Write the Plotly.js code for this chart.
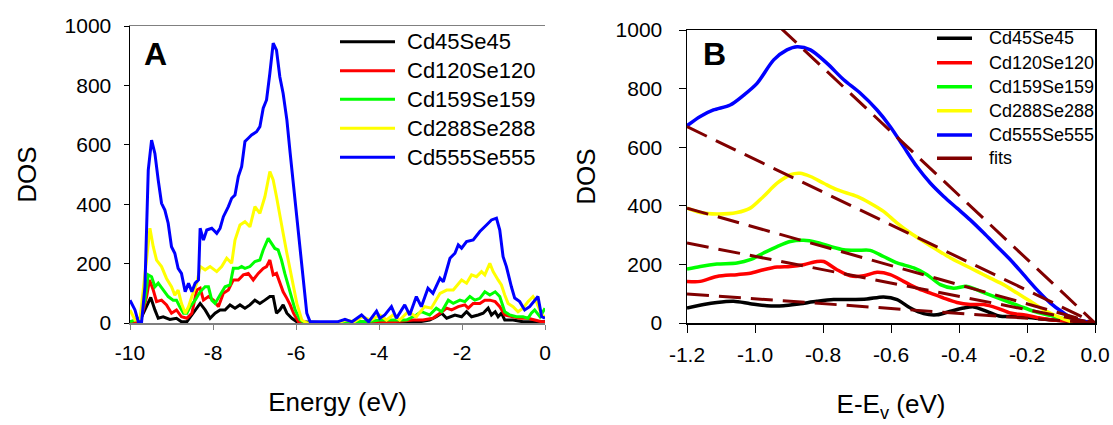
<!DOCTYPE html>
<html>
<head>
<meta charset="utf-8">
<script src="https://cdn.plot.ly/plotly-3.0.1.min.js"></script>
<style>html,body{margin:0;padding:0;background:#fff;}#chart{width:1113px;height:425px;}</style>
</head>
<body>
<div id="chart"></div>
<script>
// ---------- Panel A data (Energy eV, DOS) ----------
const seriesNames = ["Cd45Se45","Cd120Se120","Cd159Se159","Cd288Se288","Cd555Se555"];
const seriesColors = ["#000000","#ff0000","#00ff00","#ffff00","#0000ff"];

const a555x = [-10,-9.88,-9.80,-9.72,-9.64,-9.56,-9.48,-9.40,-9.32,-9.24,-9.16,-9.08,-9.00,-8.92,-8.84,-8.76,-8.67,-8.59,-8.51,-8.43,-8.35,-8.31,-8.23,-8.15,-8.03,-7.91,-7.83,-7.75,-7.63,-7.55,-7.47,-7.39,-7.31,-7.23,-7.15,-7.07,-6.95,-6.87,-6.79,-6.71,-6.63,-6.55,-6.47,-6.39,-6.31,-6.22,-6.14,-6.06,-5.98,-5.90,-5.82,-5.74,-5.66,-5.0,-4.82,-4.65,-4.42,-4.25,-4.06,-3.98,-3.86,-3.70,-3.58,-3.38,-3.26,-3.10,-2.98,-2.82,-2.70,-2.53,-2.45,-2.29,-2.17,-2.09,-2.01,-1.89,-1.73,-1.57,-1.41,-1.29,-1.17,-1.09,-1.01,-0.93,-0.81,-0.73,-0.61,-0.49,-0.37,-0.25,-0.17,-0.08,0];
const a555y = [77,44,4,4,122,515,616,571,481,403,380,336,257,235,184,167,105,134,105,134,145,319,279,313,319,302,319,358,392,420,431,493,526,611,622,633,644,661,723,751,841,942,919,829,773,684,571,459,369,257,122,33,4,4,12,4,27,4,40,16,27,55,16,61,27,89,55,117,100,151,139,218,235,263,252,274,280,308,330,347,353,313,223,190,122,84,72,44,55,77,89,21,16];

const a288x = [-10,-9.88,-9.76,-9.64,-9.52,-9.44,-9.36,-9.24,-9.12,-9.00,-8.92,-8.84,-8.76,-8.67,-8.59,-8.51,-8.39,-8.31,-8.19,-8.07,-7.91,-7.79,-7.67,-7.55,-7.47,-7.35,-7.23,-7.11,-6.99,-6.87,-6.75,-6.63,-6.55,-6.47,-6.39,-6.31,-6.22,-6.14,-6.06,-5.98,-5.86,-5.74,-5.0,-4.8,-4.6,-4.4,-4.2,-3.98,-3.82,-3.66,-3.50,-3.30,-3.10,-2.90,-2.74,-2.53,-2.37,-2.21,-2.01,-1.89,-1.77,-1.65,-1.53,-1.45,-1.33,-1.25,-1.13,-1.05,-0.97,-0.89,-0.77,-0.65,-0.53,-0.41,-0.29,-0.21,-0.08,0];
const a288y = [44,10,10,167,319,257,212,190,150,122,94,111,66,33,55,89,134,190,179,190,173,190,218,201,279,330,341,324,392,369,425,510,482,425,369,302,235,179,122,66,10,0,0,10,4,21,10,27,10,27,10,38,21,55,50,100,111,111,145,134,162,156,173,162,201,173,145,128,94,66,55,38,50,72,89,72,27,21];

const a159x = [-10,-9.88,-9.76,-9.64,-9.56,-9.48,-9.40,-9.32,-9.20,-9.08,-8.96,-8.88,-8.80,-8.71,-8.63,-8.55,-8.43,-8.31,-8.19,-8.11,-8.03,-7.95,-7.83,-7.71,-7.59,-7.51,-7.39,-7.31,-7.23,-7.11,-6.99,-6.87,-6.79,-6.67,-6.59,-6.51,-6.43,-6.35,-6.27,-6.18,-6.10,-6.02,-5.90,-5.78,-5.0,-4.6,-4.3,-3.98,-3.82,-3.58,-3.34,-3.10,-2.98,-2.78,-2.62,-2.49,-2.33,-2.21,-2.05,-1.93,-1.81,-1.69,-1.57,-1.45,-1.33,-1.20,-1.09,-0.97,-0.85,-0.69,-0.53,-0.41,-0.33,-0.25,-0.12,0];
const a159y = [4,10,16,77,162,156,122,134,111,89,77,77,55,33,33,55,77,105,122,122,77,66,94,122,128,184,184,190,184,190,207,212,246,285,268,251,246,212,167,122,89,44,10,0,0,6,4,10,10,10,10,27,38,27,50,38,77,66,77,72,89,77,83,105,94,105,89,38,27,21,21,16,33,44,21,50];

const a120x = [-10,-9.84,-9.72,-9.60,-9.53,-9.44,-9.36,-9.24,-9.12,-9.00,-8.88,-8.76,-8.63,-8.51,-8.39,-8.31,-8.23,-8.11,-7.99,-7.87,-7.75,-7.63,-7.51,-7.39,-7.27,-7.15,-7.03,-6.91,-6.79,-6.71,-6.63,-6.55,-6.47,-6.39,-6.31,-6.22,-6.14,-6.06,-5.94,-5.82,-5.0,-4.5,-4.0,-3.5,-3.18,-2.94,-2.70,-2.53,-2.37,-2.25,-2.09,-1.93,-1.85,-1.73,-1.57,-1.45,-1.33,-1.20,-1.09,-0.97,-0.81,-0.61,-0.41,-0.25,-0.08,0];
const a120y = [4,4,21,89,145,111,72,77,61,33,44,21,16,33,111,117,77,89,77,55,100,111,145,145,162,167,145,167,184,190,212,162,167,134,105,83,61,33,4,0,0,4,2,6,10,10,16,33,50,44,55,61,50,66,66,77,77,72,55,27,21,16,16,10,4,4];

const a45x = [-10,-9.84,-9.72,-9.60,-9.50,-9.40,-9.32,-9.20,-9.04,-8.88,-8.76,-8.63,-8.47,-8.31,-8.19,-8.07,-7.95,-7.83,-7.71,-7.59,-7.47,-7.35,-7.23,-7.11,-6.99,-6.87,-6.75,-6.63,-6.55,-6.47,-6.39,-6.31,-6.22,-6.10,-5.98,-5.0,-4.0,-3.02,-2.78,-2.62,-2.49,-2.37,-2.17,-2.01,-1.89,-1.77,-1.61,-1.49,-1.37,-1.29,-1.20,-1.13,-1.05,-0.97,-0.77,-0.53,0];
const a45y = [4,4,21,55,86,44,16,21,12,16,4,4,33,66,44,16,33,44,44,61,50,61,50,61,77,66,77,89,89,33,44,61,33,16,4,0,2,4,10,21,33,16,27,21,38,21,27,33,50,27,38,21,33,10,10,4,4];

// ---------- Panel B data (E-Ev eV, DOS) ----------
const b555x = [-1.2,-1.161,-1.122,-1.073,-1.033,-0.994,-0.945,-0.906,-0.876,-0.837,-0.788,-0.739,-0.690,-0.641,-0.602,-0.563,-0.524,-0.484,-0.445,-0.406,-0.367,-0.327,-0.288,-0.249,-0.210,-0.171,-0.131,-0.092,-0.068,-0.04,0];
const b555y = [673,705,727,744,778,818,898,932,943,932,886,830,784,727,670,602,534,477,432,392,352,307,261,216,165,114,68,34,17,8,0];

const b288x = [-1.2,-1.161,-1.112,-1.053,-1.014,-0.975,-0.935,-0.896,-0.867,-0.837,-0.798,-0.759,-0.700,-0.661,-0.622,-0.582,-0.543,-0.504,-0.465,-0.425,-0.386,-0.347,-0.308,-0.269,-0.229,-0.190,-0.151,-0.112,-0.073,-0.033,0];
const b288y = [392,377,372,377,392,432,477,506,511,500,477,455,432,409,381,341,307,278,250,222,199,176,153,131,102,74,45,23,6,2,0];

const b159x = [-1.2,-1.161,-1.112,-1.053,-1.014,-0.975,-0.935,-0.896,-0.857,-0.818,-0.778,-0.739,-0.700,-0.661,-0.622,-0.582,-0.533,-0.494,-0.455,-0.416,-0.376,-0.337,-0.298,-0.259,-0.220,-0.180,-0.141,-0.102,-0.063,0];
const b159y = [184,193,201,205,216,239,261,278,282,275,261,250,248,248,227,205,188,165,131,119,125,108,91,74,57,40,28,17,9,0];

const b120x = [-1.2,-1.161,-1.112,-1.053,-1.014,-0.975,-0.935,-0.896,-0.857,-0.818,-0.798,-0.759,-0.720,-0.680,-0.641,-0.602,-0.563,-0.524,-0.484,-0.445,-0.406,-0.367,-0.327,-0.288,-0.249,-0.210,-0.171,-0.131,-0.073,0];
const b120y = [142,142,159,165,170,182,191,193,199,210,210,182,161,161,173,165,142,119,102,85,70,63,63,51,34,28,19,11,6,0];

const b45x = [-1.2,-1.151,-1.112,-1.063,-1.014,-0.965,-0.916,-0.867,-0.818,-0.769,-0.720,-0.671,-0.622,-0.582,-0.543,-0.504,-0.465,-0.425,-0.386,-0.357,-0.318,-0.278,-0.229,-0.180,-0.131,-0.083,0];
const b45y = [51,63,70,74,66,59,59,66,74,80,80,82,89,80,51,32,28,40,51,55,40,23,23,17,11,6,0];

// linear fits through the origin (DOS at the two ends of the window)
const fitX = [-1.2, 0];
const fit1 = [1307, 0];
const fit2 = [670, 0];
const fit3 = [392, 0];
const fit4 = [273, 0];
const fit5 = [99, 0];
const fitName = "fits";
const fitColor = "#800000";

const xTicksA = [-10,-8,-6,-4,-2,0];
const yTicks = [0,200,400,600,800,1000];
const xTicksB = [-1.2,-1.0,-0.8,-0.6,-0.4,-0.2,0.0];

// ---------- build ----------
const W = 1113, H = 425;
const px = p => p / W;
const py = p => 1 - p / H;
const FONT = "Liberation Sans, Arial, sans-serif";

const aX = [a45x,a120x,a159x,a288x,a555x];
const aY = [a45y,a120y,a159y,a288y,a555y];
const bX = [b45x,b120x,b159x,b288x,b555x];
const bY = [b45y,b120y,b159y,b288y,b555y];

const traces = [];
for (let i = 0; i < 5; i++) {
  traces.push({x: aX[i], y: aY[i], type: "scatter", mode: "lines", name: seriesNames[i],
    line: {color: seriesColors[i], width: 3}, xaxis: "x", yaxis: "y", showlegend: false, hoverinfo: "skip"});
}
for (let i = 0; i < 5; i++) {
  traces.push({x: bX[i], y: bY[i], type: "scatter", mode: "lines", name: seriesNames[i],
    line: {color: seriesColors[i], width: 3.5, shape: "spline", smoothing: 0.8}, xaxis: "x2", yaxis: "y2", showlegend: false, hoverinfo: "skip"});
}
[fit1,fit2,fit3,fit4,fit5].forEach(f => {
  traces.push({x: fitX, y: f, type: "scatter", mode: "lines", name: fitName,
    line: {color: fitColor, width: 3, dash: "22px,10px"}, xaxis: "x2", yaxis: "y2", showlegend: false, hoverinfo: "skip"});
});

const shapes = [];
const annotations = [];
// legend A
const legAy = [41.7, 70.7, 99.3, 128.3, 157.3];
for (let i = 0; i < 5; i++) {
  shapes.push({type: "line", xref: "paper", yref: "paper", x0: px(340), x1: px(395), y0: py(legAy[i]), y1: py(legAy[i]),
    line: {color: seriesColors[i], width: 3}});
  annotations.push({xref: "paper", yref: "paper", x: px(405), y: py(legAy[i]), xanchor: "left", yanchor: "middle",
    text: seriesNames[i], showarrow: false, font: {family: FONT, size: 22, color: "#000"}});
}
// legend B
const legBy = [38.3, 62.7, 86.7, 110.7, 135, 158.3];
const legBnames = seriesNames.concat([fitName]);
const legBcolors = seriesColors.concat([fitColor]);
for (let i = 0; i < 6; i++) {
  shapes.push({type: "line", xref: "paper", yref: "paper", x0: px(937), x1: px(972), y0: py(legBy[i]), y1: py(legBy[i]),
    line: {color: legBcolors[i], width: 3.5}});
  annotations.push({xref: "paper", yref: "paper", x: px(987), y: py(legBy[i]), xanchor: "left", yanchor: "middle",
    text: legBnames[i], showarrow: false, font: {family: FONT, size: 18, color: "#000"}});
}
annotations.push({xref: "paper", yref: "paper", x: px(155), y: py(54), xanchor: "center", yanchor: "middle",
  text: "<b>A</b>", showarrow: false, font: {family: FONT, size: 32, color: "#000"}});
annotations.push({xref: "paper", yref: "paper", x: px(714), y: py(54), xanchor: "center", yanchor: "middle",
  text: "<b>B</b>", showarrow: false, font: {family: FONT, size: 32, color: "#000"}});

const tickFont = {family: FONT, size: 21, color: "#000"};
const titleFont = {family: FONT, size: 26, color: "#000"};

const layout = {
  width: W, height: H,
  margin: {l: 0, r: 0, t: 0, b: 0},
  paper_bgcolor: "#fff", plot_bgcolor: "#fff",
  showlegend: false,
  xaxis: {domain: [px(130), px(545)], range: [-10, 0], tickvals: xTicksA, ticktext: xTicksA.map(String),
    showgrid: false, zeroline: false, showline: true, linecolor: "#808080", linewidth: 1.5, mirror: true,
    ticks: "outside", ticklen: 5, tickcolor: "#808080", tickfont: tickFont, ticklabelstandoff: 5,
    title: {text: "Energy (eV)", font: titleFont, standoff: 30}, anchor: "y", automargin: false},
  yaxis: {domain: [py(323), py(26)], range: [0, 1000], tickvals: yTicks,
    showgrid: false, zeroline: false, showline: true, linecolor: "#000", linewidth: 1.5,
    ticks: "outside", ticklen: 5, tickcolor: "#000", tickfont: tickFont, ticklabelstandoff: 8,
    title: {text: "DOS", font: titleFont, standoff: 20}, anchor: "x", automargin: false},
  xaxis2: {domain: [px(687), px(1095)], range: [-1.2, 0], tickvals: xTicksB, ticktext: xTicksB.map(v => v.toFixed(1)),
    showgrid: false, zeroline: false, showline: true, linecolor: "#000", linewidth: 1.5, mirror: true,
    ticks: "outside", ticklen: 8, tickcolor: "#000", tickfont: tickFont, ticklabelstandoff: 4,
    title: {text: "E-E<sub>v</sub> (eV)", font: titleFont, standoff: 30}, anchor: "y2", automargin: false},
  yaxis2: {domain: [py(323), py(30)], range: [0, 1000], tickvals: yTicks,
    showgrid: false, zeroline: false, showline: true, linecolor: "#000", linewidth: 1.5, mirror: true,
    ticks: "outside", ticklen: 7, tickcolor: "#000", tickfont: tickFont, ticklabelstandoff: 12,
    title: {text: "DOS", font: titleFont, standoff: 12}, anchor: "x2", automargin: false},
  shapes: shapes,
  annotations: annotations
};

Plotly.newPlot("chart", traces, layout, {staticPlot: true, displayModeBar: false});
</script>
</body>
</html>
